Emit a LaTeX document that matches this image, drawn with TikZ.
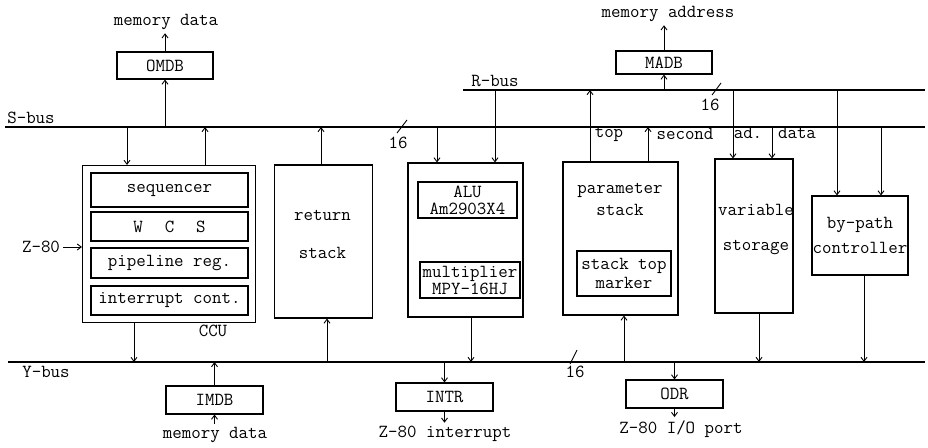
\documentclass[tikz,border=0pt]{standalone}
\usepackage{fontspec}
\usetikzlibrary{arrows.meta}

\begin{document}
\begin{tikzpicture}[x=1pt, y=-1pt,
    every node/.style={font=\ttfamily\fontsize{18.4}{19}\selectfont, align=center},
    box/.style={draw, line width=1.1pt, inner sep=0pt},
    bus/.style={line width=2.8pt},
    arr/.style={line width=0.9pt, -{Straight Barb[length=4pt,width=6pt]}},
    tick/.style={line width=0.9pt}]

    \useasboundingbox (0,0) rectangle (928,447);

    % buses
    \coordinate (sbusL) at (5,127);
    \coordinate (sbusR) at (925,127);
    \coordinate (rbusL) at (463,90);
    \coordinate (rbusR) at (925,90);
    \coordinate (ybusL) at (8,362);
    \coordinate (ybusR) at (925,362);
    \node (sbus) at (31,118) {S-bus};
    \node (rbus) at (495,81) {R-bus};
    \node (ybus) at (46,372) {Y-bus};

    % taps on the buses
    \coordinate (ccuIn) at (127,127);
    \coordinate (ccuOut) at (205,127);
    \coordinate (retOut) at (321,127);
    \coordinate (aluS) at (437,127);
    \coordinate (parSec) at (648,127);
    \coordinate (varData) at (772,127);
    \coordinate (bypS) at (881,127);
    \coordinate (aluR) at (495,90);
    \coordinate (parTop) at (590,90);
    \coordinate (varAd) at (733,90);
    \coordinate (bypR) at (837,90);
    \coordinate (ccuY) at (134,362);
    \coordinate (retY) at (327,362);
    \coordinate (aluY) at (471,362);
    \coordinate (parY) at (624,362);
    \coordinate (varY) at (759,362);
    \coordinate (bypY) at (864,362);

    % OMDB
    \node[box, minimum width=96pt, minimum height=27pt] (omdb) at (165,65.5) {OMDB};
    \node (mdTop) at (166,22) {memory data};
    \draw[arr] (omdb.south |- sbusL) -- (omdb.south);
    \draw[arr] (omdb.north) -- (omdb.north |- mdTop.south);

    % MADB
    \node[box, minimum width=96pt, minimum height=23pt] (madb) at (664,62.5) {MADB};
    \node (maTop) at (668,14) {memory address};
    \draw[arr] (madb.south |- rbusL) -- (madb.south);
    \draw[arr] (madb.north) -- (madb.north |- maTop.south);

    % CCU
    \node[box, minimum width=173pt, minimum height=157pt] (ccu) at (169,244) {};
    \node[box, minimum width=157pt, minimum height=34pt] (seq) at (169.5,190) {sequencer};
    \node[box, minimum width=157pt, minimum height=29pt] (wcs) at (169.5,226.5) {W\hspace{22pt}C\hspace{22pt}S};
    \node[box, minimum width=157pt, minimum height=30pt] (pipe) at (169.5,263) {pipeline reg.};
    \node[box, minimum width=157pt, minimum height=29pt] (intc) at (169.5,300.5) {interrupt cont.};
    \node (ccuTxt) at (213,331) {CCU};
    \node (z80) at (41,247) {Z-80};
    \draw[arr] (ccuIn) -- (ccuIn |- ccu.north);
    \draw[arr] (ccuOut |- ccu.north) -- (ccuOut);
    \draw[arr] (z80.east) -- (ccu.west |- z80);
    \draw[arr] (ccuY |- ccu.south) -- (ccuY);

    % return stack
    \node[box, minimum width=98pt, minimum height=153pt] (ret) at (323.5,241.5) {};
    \node (retTxt) at (322.5,234) {return\\[19pt]stack};
    \draw[arr] (retOut |- ret.north) -- (retOut);
    \draw[arr] (retY) -- (retY |- ret.south);

    % ALU and multiplier
    \node[box, minimum width=115pt, minimum height=154pt] (alu) at (465.5,240) {};
    \node[box, minimum width=99pt, minimum height=36pt] (aluIn) at (467.5,200) {ALU\\[-2pt]Am2903X4};
    \node[box, minimum width=100pt, minimum height=36pt] (mpy) at (470,280) {multiplier\\[-2pt]MPY-16HJ};
    \draw[arr] (aluS) -- (aluS |- alu.north);
    \draw[arr] (aluR) -- (aluR |- alu.north);
    \draw[arr] (aluY |- alu.south) -- (aluY);

    % parameter stack
    \node[box, minimum width=115pt, minimum height=153pt] (par) at (620.5,238.5) {};
    \node (parTxt) at (620,199) {parameter\\[3pt]stack};
    \node[box, minimum width=94pt, minimum height=45pt] (stm) at (624,273.5) {stack top\\[0pt]marker};
    \node (topTxt) at (609,134) {top};
    \node (secTxt) at (685,134) {second};
    \draw[arr] (parTop |- par.north) -- (parTop);
    \draw[arr] (parSec |- par.north) -- (parSec);
    \draw[arr] (parY) -- (parY |- par.south);

    % variable storage
    \node[box, minimum width=78pt, minimum height=154pt] (var) at (754,236) {};
    \node (varTxt) at (756,229.5) {variable\\[16pt]storage};
    \node (adTxt) at (748,133) {ad.};
    \node (dataTxt) at (797,133) {data};
    \draw[arr] (varAd) -- (varAd |- var.north);
    \draw[arr] (varData) -- (varData |- var.north);
    \draw[arr] (varY |- var.south) -- (varY);

    % by-path controller
    \node[box, minimum width=96pt, minimum height=79pt] (byp) at (860,235.5) {by-path\\[6pt]controller};
    \draw[arr] (bypR) -- (bypR |- byp.north);
    \draw[arr] (bypS) -- (bypS |- byp.north);
    \draw[arr] (bypY |- byp.south) -- (bypY);

    % IMDB
    \node[box, minimum width=97pt, minimum height=28pt] (imdb) at (214.5,400) {IMDB};
    \node (mdBot) at (215,435) {memory data};
    \draw[arr] (imdb.north) -- (imdb.north |- ybusL);
    \draw[arr] (mdBot.north -| imdb.south) -- (imdb.south);

    % INTR
    \node[box, minimum width=97pt, minimum height=28pt] (intr) at (444.5,397) {INTR};
    \node (intrOut) at (445,434) {Z-80 interrupt};
    \draw[arr] (intr.north |- ybusL) -- (intr.north);
    \draw[arr] (intr.south) -- (intr.south |- intrOut.north);

    % ODR
    \node[box, minimum width=97pt, minimum height=28pt] (odr) at (674.5,394) {ODR};
    \node (odrOut) at (681,429) {Z-80 I/O port};
    \draw[arr] (odr.north |- ybusL) -- (odr.north);
    \draw[arr] (odr.south) -- (odr.south |- odrOut.north);

    % bus lines on top of the taps
    \draw[bus] (sbusL) -- (sbusR);
    \draw[bus] (rbusL) -- (rbusR);
    \draw[bus] (ybusL) -- (ybusR);

    % bus widths
    \draw[tick] (397,133) -- (407,120);
    \node (w1) at (398,143) {16};
    \draw[tick] (712,95) -- (721,83);
    \node (w2) at (710,105) {16};
    \draw[tick] (570,364) -- (577,350);
    \node (w3) at (575,372) {16};

\end{tikzpicture}
\end{document}
